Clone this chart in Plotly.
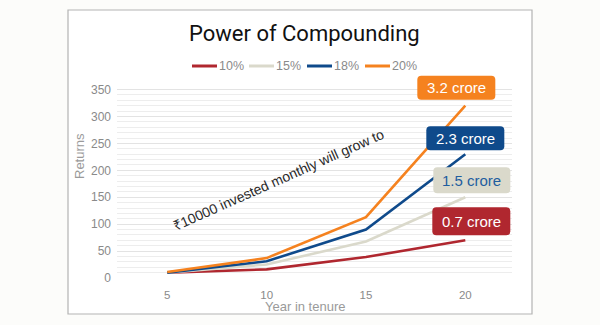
import plotly.graph_objects as go

# Monthly SIP of ₹10000: corpus (₹ lakh) by tenure for each annual return
years = [5, 10, 15, 20]
series_names = ["10%", "15%", "18%", "20%"]
returns_10 = [10, 16, 39, 70]
returns_15 = [10, 25, 68, 150]
returns_18 = [10, 31, 90, 230]
returns_20 = [11, 37, 113, 320]
end_labels = ["0.7 crore", "1.5 crore", "2.3 crore", "3.2 crore"]
y_ticks = [0, 50, 100, 150, 200, 250, 300, 350]

all_returns = [returns_10, returns_15, returns_18, returns_20]
line_colors = ["#b0272f", "#dad9cb", "#0f4a8b", "#f5821f"]
label_text_colors = ["#ffffff", "#1f5e9f", "#ffffff", "#ffffff"]
# badge offset (px) from the last point of each line, plus badge size
label_offsets = [(6, 19, 78, 28), (6.5, 17, 77, 26), (0, 16, 78, 24), (-9, 18, 78, 24)]

FONT = "Liberation Sans, Arial, sans-serif"

# plot-area geometry in pixels
W, H = 600, 325
L, R, T, B = 117, 88, 70, 47
pw, ph = W - L - R, H - T - B
PX_PER_UNIT = 0.5383
y_top = ph / PX_PER_UNIT


def px_x(px):
    return (px - L) / pw


def px_y(py):
    return (H - B - py) / ph


fig = go.Figure()

for name, vals, col in zip(series_names, all_returns, line_colors):
    fig.add_trace(go.Scatter(
        x=years, y=vals, mode="lines", name=name,
        line=dict(color=col, width=2.6), showlegend=False,
        hoverinfo="skip",
    ))

shapes = []
annotations = []

# white card with a thin grey border behind the chart
shapes.append(dict(
    type="rect", xref="paper", yref="paper",
    x0=px_x(68), x1=px_x(532), y0=px_y(314), y1=px_y(10),
    fillcolor="white", line=dict(color="#b3b3b3", width=1.2), layer="below",
))


def rounded_rect(w, h, r, cx, cy):
    x0, x1 = cx - w / 2, cx + w / 2
    y0, y1 = cy - h / 2, cy + h / 2
    return (f"M {x0 + r},{y0} L {x1 - r},{y0} Q {x1},{y0} {x1},{y0 + r} "
            f"L {x1},{y1 - r} Q {x1},{y1} {x1 - r},{y1} "
            f"L {x0 + r},{y1} Q {x0},{y1} {x0},{y1 - r} "
            f"L {x0},{y0 + r} Q {x0},{y0} {x0 + r},{y0} Z")


# end-of-line value badges
for vals, col, tcol, text, (dx, dy, bw, bh) in zip(
        all_returns, line_colors, label_text_colors, end_labels, label_offsets):
    shapes.append(dict(
        type="path", xref="x", yref="y",
        xsizemode="pixel", ysizemode="pixel",
        xanchor=years[-1], yanchor=vals[-1],
        path=rounded_rect(bw, bh, 4, dx, dy),
        fillcolor=col, line=dict(width=0), layer="above",
    ))
    annotations.append(dict(
        x=years[-1], y=vals[-1], xref="x", yref="y",
        text=text, showarrow=False, xshift=dx, yshift=dy,
        font=dict(family=FONT, size=15, color=tcol),
    ))

# legend: short line swatch followed by the label
legend_x = [192, 249, 307, 365]
for name, col, lx in zip(series_names, line_colors, legend_x):
    shapes.append(dict(
        type="line", xref="paper", yref="paper",
        x0=px_x(lx), x1=px_x(lx + 25), y0=px_y(66), y1=px_y(66),
        line=dict(color=col, width=3),
    ))
    annotations.append(dict(
        x=px_x(lx + 25), y=px_y(66), xref="paper", yref="paper",
        text=name, showarrow=False, xanchor="left", yanchor="middle",
        font=dict(family=FONT, size=12.5, color="#8a8a8a"),
    ))

# title
annotations.append(dict(
    x=px_x(304), y=px_y(34), xref="paper", yref="paper",
    text="Power of Compounding", showarrow=False,
    xanchor="center", yanchor="middle",
    font=dict(family="Roboto, sans-serif", size=22, color="#111111"),
))

# slanted caption
annotations.append(dict(
    x=px_x(278), y=px_y(180), xref="paper", yref="paper",
    text="₹10000 invested monthly will grow to", showarrow=False,
    textangle=-24, xanchor="center", yanchor="middle",
    font=dict(family=FONT, size=14, color="#2a2a2a"),
))

# axis titles
annotations.append(dict(
    x=px_x(79), y=px_y(156), xref="paper", yref="paper",
    text="Returns", showarrow=False, textangle=-90,
    xanchor="center", yanchor="middle",
    font=dict(family=FONT, size=13, color="#9a9a9a"),
))
annotations.append(dict(
    x=px_x(305), y=px_y(306.5), xref="paper", yref="paper",
    text="Year in tenure", showarrow=False,
    xanchor="center", yanchor="middle",
    font=dict(family=FONT, size=13, color="#9a9a9a"),
))

minor_ticks = [v for v in range(10, 350, 10) if v % 50]

fig.update_layout(
    width=W, height=H,
    margin=dict(l=L, r=R, t=T, b=B, pad=0),
    paper_bgcolor="#fcfcfa",
    plot_bgcolor="rgba(0,0,0,0)",
    shapes=shapes,
    annotations=annotations,
    showlegend=False,
    xaxis=dict(
        range=[2.47, 22.35], tickvals=years, ticktext=[str(y) for y in years],
        showgrid=False, zeroline=False, showline=False, ticks="",
        tickfont=dict(family=FONT, size=11.5, color="#8a8a8a"),
        ticklabelstandoff=8, fixedrange=True,
    ),
    yaxis=dict(
        range=[0, y_top], tickvals=y_ticks,
        showgrid=True, gridcolor="#e3e3e3", gridwidth=1,
        minor=dict(tickvals=minor_ticks, showgrid=True,
                   gridcolor="#ededed", gridwidth=1),
        zeroline=False, showline=False, ticks="",
        tickfont=dict(family=FONT, size=12, color="#8a8a8a"),
        ticklabelstandoff=5, fixedrange=True,
    ),
)

fig.write_html("out.html")
